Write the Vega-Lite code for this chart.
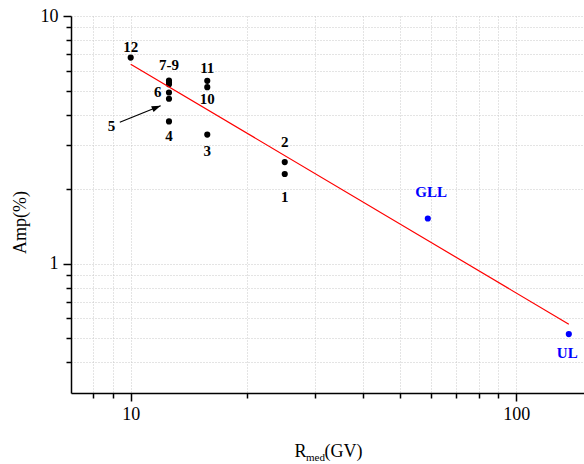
{
  "$schema": "https://vega.github.io/schema/vega-lite/v6.json",
  "autosize": {"type": "none"},
  "padding": {"left": 71, "top": 16, "right": 0, "bottom": 71},
  "width": 513,
  "height": 377,
  "config": {"view": {"stroke": null}, "font": "Liberation Serif"},
  "datasets": {
    "points": [
      {"id": "1", "R": 25.1, "amp": 2.30, "group": "present"},
      {"id": "2", "R": 25.1, "amp": 2.57, "group": "present"},
      {"id": "3", "R": 15.8, "amp": 3.32, "group": "present"},
      {"id": "4", "R": 12.57, "amp": 3.75, "group": "present"},
      {"id": "5", "R": 12.57, "amp": 4.63, "group": "present"},
      {"id": "6", "R": 12.57, "amp": 4.91, "group": "present"},
      {"id": "7", "R": 12.57, "amp": 5.30, "group": "present"},
      {"id": "8", "R": 12.57, "amp": 5.40, "group": "present"},
      {"id": "9", "R": 12.57, "amp": 5.49, "group": "present"},
      {"id": "10", "R": 15.8, "amp": 5.16, "group": "present"},
      {"id": "11", "R": 15.8, "amp": 5.47, "group": "present"},
      {"id": "12", "R": 10.0, "amp": 6.79, "group": "present"},
      {"id": "GLL", "R": 59.0, "amp": 1.52, "group": "comparison"},
      {"id": "UL", "R": 137, "amp": 0.519, "group": "comparison"}
    ],
    "fit": [
      {"R": 10.0, "amp": 6.39},
      {"R": 137, "amp": 0.569}
    ],
    "labels": [
      {"text": "12", "R": 10.0, "amp": 7.52, "group": "present"},
      {"text": "7-9", "R": 12.57, "amp": 6.33, "group": "present"},
      {"text": "11", "R": 15.8, "amp": 6.18, "group": "present"},
      {"text": "10", "R": 15.8, "amp": 4.63, "group": "present"},
      {"text": "6", "R": 11.75, "amp": 4.93, "group": "present"},
      {"text": "5", "R": 8.91, "amp": 3.58, "group": "present"},
      {"text": "4", "R": 12.57, "amp": 3.29, "group": "present"},
      {"text": "3", "R": 15.8, "amp": 2.85, "group": "present"},
      {"text": "2", "R": 25.1, "amp": 3.11, "group": "present"},
      {"text": "1", "R": 25.1, "amp": 1.86, "group": "present"},
      {"text": "GLL", "R": 60.2, "amp": 1.94, "group": "comparison"},
      {"text": "UL", "R": 135.7, "amp": 0.437, "group": "comparison"}
    ],
    "arrow": [
      {"R": 9.37, "amp": 3.72, "R2": 11.96, "amp2": 4.34}
    ]
  },
  "resolve": {"axis": {"x": "independent"}},
  "layer": [
    {
      "data": {"name": "points"},
      "mark": {"type": "point", "filled": true, "opacity": 1, "size": 38, "shape": "circle"},
      "encoding": {
        "x": {
          "field": "R", "type": "quantitative",
          "scale": {"type": "log", "domain": [7, 150], "nice": false},
          "axis": {
            "values": [8, 9, 10, 20, 30, 40, 50, 60, 70, 80, 90, 100],
            "labelExpr": "(datum.value == 10 || datum.value == 100) ? format(datum.value, 'd') : ''",
            "tickSize": {"condition": {"test": "datum.value == 10 || datum.value == 100", "value": 8}, "value": 5},
            "tickColor": "black", "tickWidth": 1.5,
            "domainColor": "black", "domainWidth": 1.5,
            "grid": true, "gridColor": "#c8c8c8", "gridDash": [1, 2], "gridWidth": 1,
            "labelFont": "Liberation Serif", "labelFontSize": 18, "labelColor": "black", "labelPadding": 4,
            "labelFlush": false, "labelOverlap": false,
            "title": "R",
            "titleFont": "Liberation Serif", "titleFontSize": 18, "titleFontWeight": "normal", "titleColor": "black",
            "titleX": 223, "titleY": 63, "titleAlign": "left", "titleBaseline": "alphabetic", "titleAnchor": null
          }
        },
        "y": {
          "field": "amp", "type": "quantitative",
          "scale": {"type": "log", "domain": [0.3, 10], "nice": false},
          "axis": {
            "values": [0.4, 0.5, 0.6, 0.7, 0.8, 0.9, 1, 2, 3, 4, 5, 6, 7, 8, 9, 10],
            "labelExpr": "(datum.value == 1 || datum.value == 10) ? format(datum.value, 'd') : ''",
            "tickSize": {"condition": {"test": "datum.value == 1 || datum.value == 10", "value": 8}, "value": 5},
            "tickColor": "black", "tickWidth": 1.5,
            "domainColor": "black", "domainWidth": 1.5,
            "grid": true, "gridColor": "#c8c8c8", "gridDash": [1, 2], "gridWidth": 1,
            "labelFont": "Liberation Serif", "labelFontSize": 18, "labelColor": "black", "labelPadding": 5,
            "labelFlush": false, "labelOverlap": false,
            "title": "Amp(%)",
            "titleFont": "Liberation Serif", "titleFontSize": 18, "titleFontWeight": "normal", "titleColor": "black",
            "titleAngle": -90, "titleX": -51, "titleY": 206, "titleAlign": "center", "titleBaseline": "middle", "titleAnchor": null
          }
        },
        "color": {
          "field": "group", "type": "nominal",
          "scale": {"domain": ["present", "comparison"], "range": ["#000000", "#0000ff"]},
          "legend": null
        }
      }
    },
    {
      "data": {"name": "fit"},
      "mark": {"type": "line", "color": "#ff0000", "strokeWidth": 1.2},
      "encoding": {
        "x": {
          "field": "R", "type": "quantitative",
          "scale": {"type": "log", "domain": [7, 150], "nice": false},
          "axis": {
            "orient": "bottom", "domain": false, "ticks": false, "labels": false, "grid": false,
            "title": "med",
            "titleFont": "Liberation Serif", "titleFontSize": 11, "titleFontWeight": "normal", "titleColor": "black",
            "titleX": 234.5, "titleY": 67, "titleAlign": "left", "titleBaseline": "alphabetic", "titleAnchor": null
          }
        },
        "y": {"field": "amp", "type": "quantitative", "scale": {"type": "log", "domain": [0.3, 10], "nice": false}}
      }
    },
    {
      "data": {"name": "arrow"},
      "mark": {"type": "rule", "color": "black", "strokeWidth": 1.2},
      "encoding": {
        "x": {
          "field": "R", "type": "quantitative",
          "scale": {"type": "log", "domain": [7, 150], "nice": false},
          "axis": {
            "orient": "bottom", "domain": false, "ticks": false, "labels": false, "grid": false,
            "title": "(GV)",
            "titleFont": "Liberation Serif", "titleFontSize": 18, "titleFontWeight": "normal", "titleColor": "black",
            "titleX": 253, "titleY": 63, "titleAlign": "left", "titleBaseline": "alphabetic", "titleAnchor": null
          }
        },
        "x2": {"field": "R2"},
        "y": {"field": "amp", "type": "quantitative", "scale": {"type": "log", "domain": [0.3, 10], "nice": false}},
        "y2": {"field": "amp2"}
      }
    },
    {
      "data": {"name": "arrow"},
      "mark": {"type": "point", "filled": true, "opacity": 1, "color": "black", "shape": "M0,0L-2,-0.7L-2,0.7Z", "size": 81, "angle": 337.8},
      "encoding": {
        "x": {"field": "R2", "type": "quantitative", "scale": {"type": "log", "domain": [7, 150], "nice": false}, "axis": null},
        "y": {"field": "amp2", "type": "quantitative", "scale": {"type": "log", "domain": [0.3, 10], "nice": false}}
      }
    },
    {
      "data": {"name": "labels"},
      "mark": {"type": "text", "font": "Liberation Serif", "fontSize": 15, "fontWeight": "bold", "align": "center", "baseline": "middle"},
      "encoding": {
        "x": {"field": "R", "type": "quantitative", "scale": {"type": "log", "domain": [7, 150], "nice": false}, "axis": null},
        "y": {"field": "amp", "type": "quantitative", "scale": {"type": "log", "domain": [0.3, 10], "nice": false}},
        "text": {"field": "text"},
        "color": {
          "field": "group", "type": "nominal",
          "scale": {"domain": ["present", "comparison"], "range": ["#000000", "#0000ff"]},
          "legend": null
        }
      }
    }
  ]
}
